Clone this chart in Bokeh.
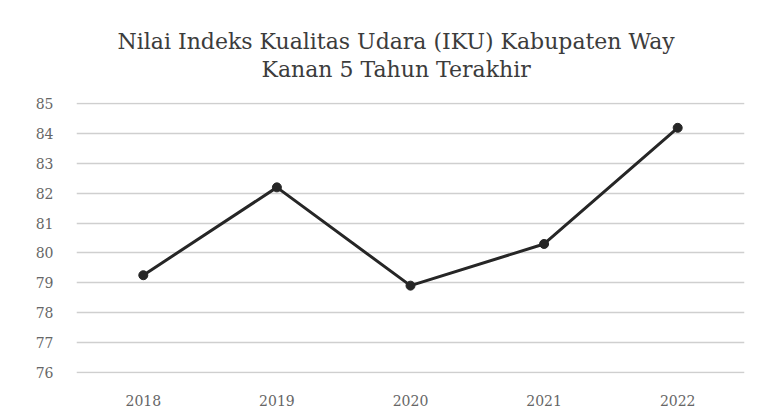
from bokeh.plotting import figure
from bokeh.models import Title, Range1d, FixedTicker
from bokeh.embed import file_html
from bokeh.resources import INLINE

years = ["2018", "2019", "2020", "2021", "2022"]
iku = [79.25, 82.2, 78.9, 80.3, 84.2]
y_ticks = [76, 77, 78, 79, 80, 81, 82, 83, 84, 85]
title_line1 = "Nilai Indeks Kualitas Udara (IKU) Kabupaten Way"
title_line2 = "Kanan 5 Tahun Terakhir"

p = figure(width=760, height=410, x_range=years, y_range=Range1d(75.95, 85.05),
           output_backend="svg", toolbar_location=None,
           min_border_left=76, min_border_right=16, min_border_bottom=37, min_border_top=102)

# spacer between frame and title
p.add_layout(Title(text=" ", text_font_size="1px", standoff=18), "above")
p.add_layout(Title(text=title_line2, align="left", text_font="DejaVu Serif",
                   text_font_size="22px", text_font_style="normal", text_color="#3c3c3c",
                   standoff=0, offset=185), "above")
p.add_layout(Title(text=title_line1, align="left", text_font="DejaVu Serif",
                   text_font_size="22px", text_font_style="normal", text_color="#3c3c3c",
                   standoff=2, offset=41), "above")

p.line(years, iku, line_color="#262626", line_width=3)
p.scatter(years, iku, size=9, fill_color="#262626", line_color="#262626")

p.outline_line_color = None
p.xgrid.grid_line_color = None
p.ygrid.grid_line_color = "#cfcfcf"
p.ygrid.grid_line_width = 1.5
p.yaxis.ticker = FixedTicker(ticks=y_ticks)

for ax in (p.xaxis[0], p.yaxis[0]):
    ax.axis_line_color = None
    ax.major_tick_line_color = None
    ax.minor_tick_line_color = None
    ax.major_label_text_font = "DejaVu Serif"
    ax.major_label_text_font_size = "14px"
    ax.major_label_text_color = "#666666"

p.yaxis.major_label_standoff = 17
p.xaxis.major_label_standoff = 15

open("out.html", "w").write(file_html(p, INLINE))
